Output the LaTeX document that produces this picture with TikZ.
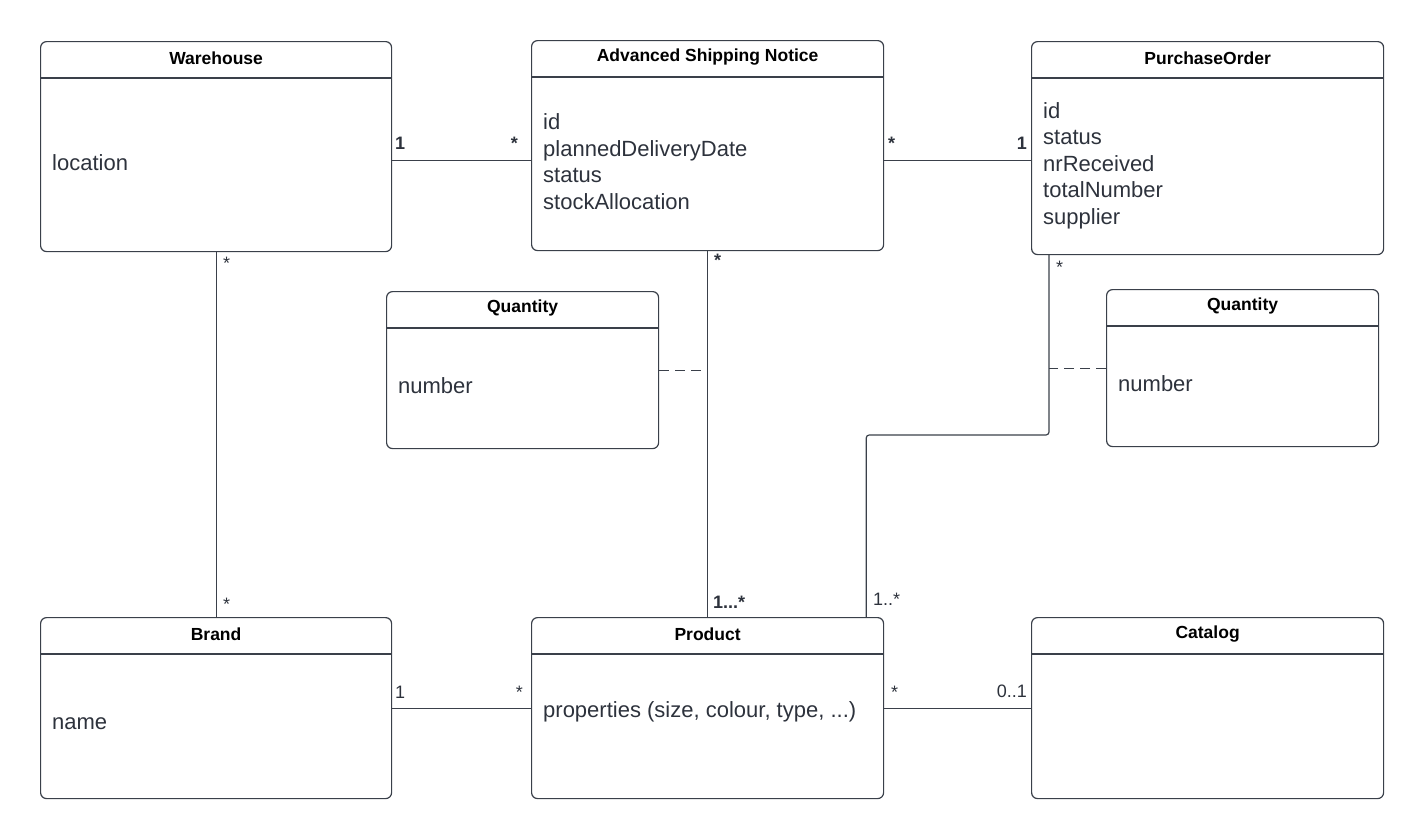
\documentclass[tikz,border=0pt]{standalone}
\usepackage{fontspec}
\setmainfont{Liberation Sans}
\usetikzlibrary{positioning}

\definecolor{umlline}{RGB}{58,64,74}
\definecolor{umltext}{RGB}{45,50,60}

\tikzset{
  classbox/.style={draw=umlline,line width=1.2pt,rounded corners=6pt,
    anchor=north west,inner sep=0pt},
  classtitle/.style={font=\fontsize{17.5}{21}\selectfont\bfseries,text=black},
  attr/.style={font=\fontsize{22}{26.5}\selectfont,text=umltext,
    inner sep=0pt,align=left},
  mult/.style={font=\fontsize{18}{21}\selectfont,text=umltext,inner sep=0pt},
  multbold/.style={mult,font=\fontsize{18}{21}\selectfont\bfseries},
  assoc/.style={draw=umlline,line width=1.2pt},
  linkdash/.style={assoc,dash pattern=on 10pt off 6pt}
}

\begin{document}
\begin{tikzpicture}[x=1pt,y=-1pt]
  \useasboundingbox (0,0) rectangle (1424,838);

  % classes with their header line
  \foreach \name/\x/\y/\w/\h/\title in {
      wh/40/41/351/210/Warehouse,
      asn/531/40/352/210/Advanced Shipping Notice,
      po/1031/41/352/213/PurchaseOrder,
      qa/386/291/272/157/Quantity,
      qb/1106/289/272/157/Quantity,
      br/40/617/351/181/Brand,
      pr/531/617/352/181/Product,
      ca/1031/617/352/181/Catalog}{
    \node[classbox,minimum width=\w pt,minimum height=\h pt] (\name) at (\x,\y) {};
    \node[classtitle] (\name T) at ([yshift=-17pt]\name.north) {\title};
    \draw[umlline,line width=1.2pt]
      ([yshift=-37pt]\name.north west) -- ([yshift=-37pt]\name.north east);
  }

  % attributes (base = last line)
  \node[attr,anchor=base west] (whA) at (52,170) {location};
  \node[attr,anchor=base west] (asnA) at (543,209)
    {id\\plannedDeliveryDate\\status\\stockAllocation};
  \node[attr,anchor=base west] (poA) at (1043,224)
    {id\\status\\nrReceived\\totalNumber\\supplier};
  \node[attr,anchor=base west] (qaA) at (398,393) {number};
  \node[attr,anchor=base west] (qbA) at (1118,391) {number};
  \node[attr,anchor=base west] (brA) at (52,729) {name};
  \node[attr,anchor=base west] (prA) at (543,717) {properties (size, colour, type, ...)};

  % associations
  \coordinate (whR) at ([yshift=-14pt]wh.east);
  \coordinate (asnR) at ([yshift=-15pt]asn.east);
  \coordinate (poLeg) at ([xshift=18pt]po.south west);
  \coordinate (prLeg) at ([xshift=-18pt]pr.north east);
  \draw[assoc] (whR) -- (whR -| asn.west);
  \draw[assoc] (asnR) -- (asnR -| po.west);
  \draw[assoc] (wh.south) -- (br.north);
  \draw[assoc] (asn.south) -- (pr.north);
  \draw[assoc,rounded corners=3pt] (poLeg) -- (poLeg |- 0,435) -| (prLeg);
  \draw[assoc] (br.east) -- (pr.west);
  \draw[assoc] (pr.east) -- (ca.west);

  % association classes
  \draw[linkdash] (qa.east) -- (qa.east -| asn.south);
  \draw[linkdash] (qb.west) -- (qb.west -| poLeg);

  % multiplicities
  \node[multbold,anchor=base west] (m1) at (395,149) {1};
  \node[multbold,anchor=base east] (m2) at (518,149) {*};
  \node[multbold,anchor=base west] (m3) at (888,149) {*};
  \node[multbold,anchor=base east] (m4) at (1027,149) {1};
  \node[mult,anchor=base west] (m5) at (223,269) {*};
  \node[mult,anchor=base west] (m6) at (223,610) {*};
  \node[multbold,anchor=base west] (m7) at (714,266) {*};
  \node[multbold,anchor=base west] (m8) at (713,608) {1...*};
  \node[mult,anchor=base west] (m9) at (873,605) {1..*};
  \node[mult,anchor=base west] (m10) at (1056,273) {*};
  \node[mult,anchor=base west] (m11) at (395,698) {1};
  \node[mult,anchor=base east] (m12) at (523,698) {*};
  \node[mult,anchor=base west] (m13) at (891,698) {*};
  \node[mult,anchor=base east] (m14) at (1027,697) {0..1};
\end{tikzpicture}
\end{document}
